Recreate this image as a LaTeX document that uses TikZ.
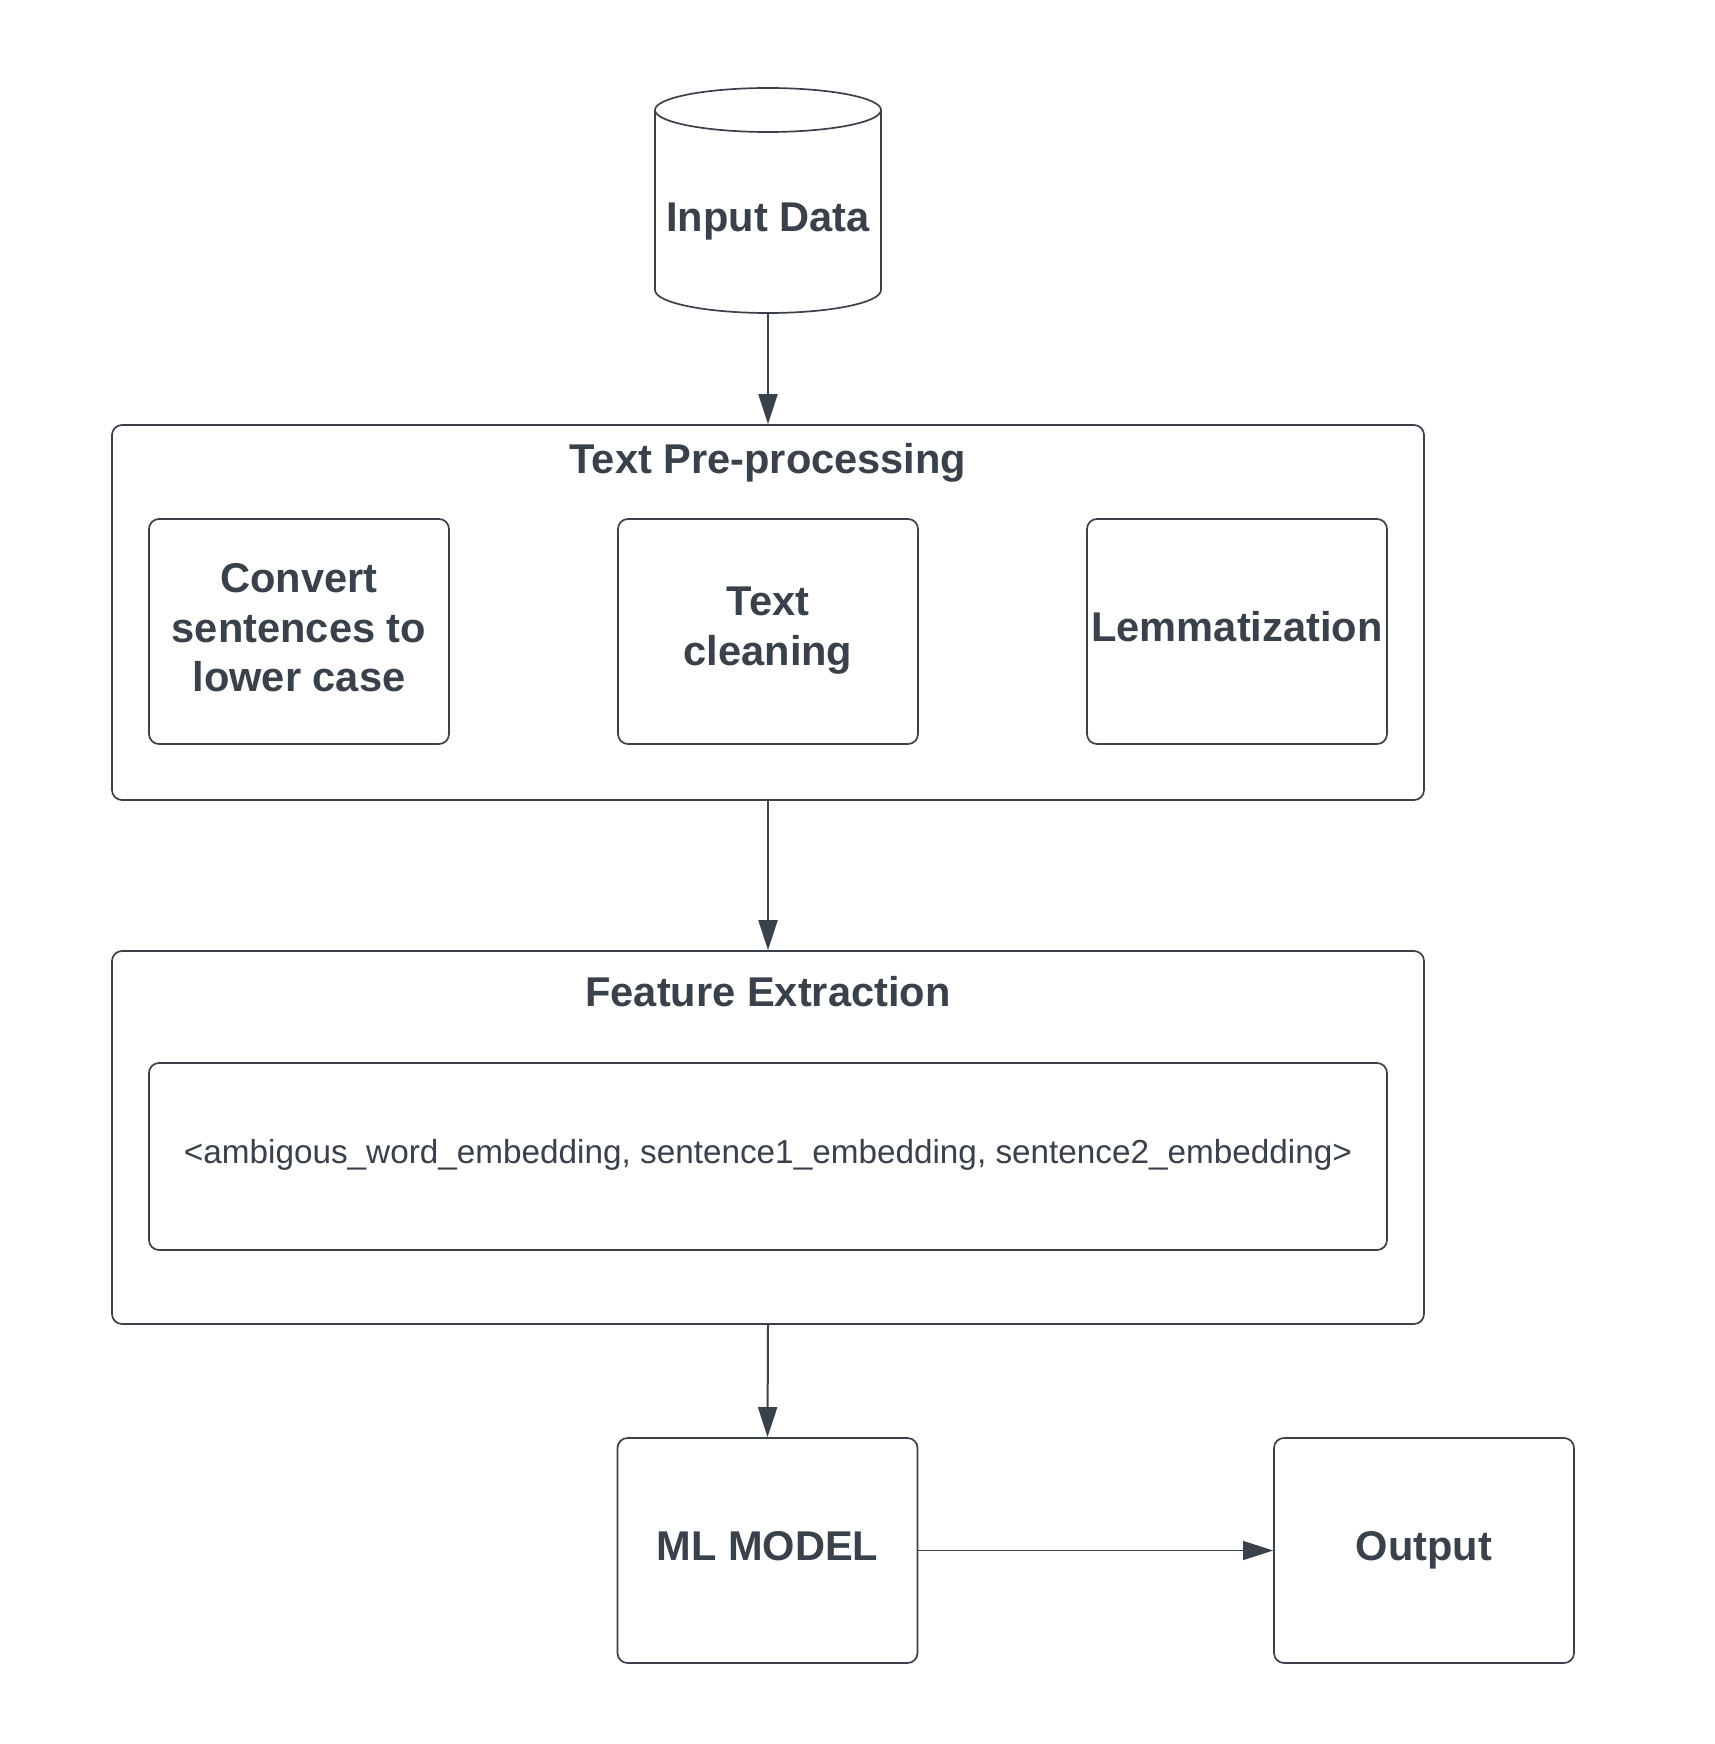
\documentclass[tikz,border=0pt]{standalone}
\usepackage{fontspec}
\setmainfont{Liberation Sans}
\usetikzlibrary{arrows.meta}
\definecolor{ink}{HTML}{3A414A}
\tikzset{
  boxline/.style={draw=ink, line width=0.85pt, rounded corners=5pt, fill=white},
  lbl/.style={text=ink, font=\fontsize{20.8}{24.75}\selectfont\bfseries, align=center, inner sep=0pt},
  fixed/.style={text height=12pt, text depth=2pt},
  small/.style={text=ink, font=\fontsize{16.65}{20}\selectfont, inner sep=0pt, text height=8.5pt, text depth=2pt},
  stepbox/.style={boxline, minimum width=150pt, minimum height=112.5pt},
  conn/.style={draw=ink, line width=1pt, -{Triangle[length=15pt,width=9.5pt]}},
  thinconn/.style={draw=ink, line width=0.6pt, -{Triangle[length=15pt,width=9.5pt]}},
}
\begin{document}
\begin{tikzpicture}[x=0.5pt,y=-0.5pt]
\useasboundingbox[fill=white] (0,0) rectangle (1714,1744);
% cylinder
\draw[draw=ink, line width=0.85pt, fill=white] (655,110) -- (655,290) arc[start angle=180, end angle=0, x radius=113, y radius=23] -- (881,110);
\draw[draw=ink, line width=0.85pt, fill=white] (768,110) ellipse[x radius=113, y radius=22];
\node[minimum width=113pt, minimum height=112.5pt, inner sep=0pt] (inp) at (768,200.5) {};
\node[lbl, fixed] (inptxt) at (768,222) {Input Data};
% Text pre-processing
\node[boxline, minimum width=656pt, minimum height=187.5pt, inner sep=0pt] (pre) at (768,612.5) {};
\node[lbl, fixed] (pretitle) at (768,463) {Text Pre-processing};
\node[stepbox] (conv) at (299,631.5) {};
\node[lbl] (convtxt) at (299,628) {Convert\\sentences to\\lower case};
\node[stepbox] (clean) at (768,631.5) {};
\node[lbl] (cleantxt) at (768,630.4) {Text\\cleaning};
\node[stepbox, lbl, fixed] (lem) at (1237,631.5) {Lemmatization};
% Feature extraction
\node[boxline, minimum width=656pt, minimum height=186.5pt, inner sep=0pt] (fe) at (768,1137.5) {};
\node[lbl, fixed] (fetitle) at (768,996.7) {Feature Extraction};
\node[boxline, small, minimum width=619pt, minimum height=93.5pt] (emb) at (768,1156.5) {<ambigous\_word\_embedding, sentence1\_embedding, sentence2\_embedding>};
% bottom
\node[stepbox, lbl, fixed] (ml) at (767.5,1550.5) {ML MODEL};
\node[stepbox, lbl, fixed] (out) at (1424,1550.5) {Output};
% connectors
\draw[conn] (inp.south) -- (pre.north);
\draw[conn] (pre.south) -- (fe.north);
\draw[conn] (fe.south) -- (ml.north);
\draw[thinconn] (ml.east) -- (out.west);
\end{tikzpicture}
\end{document}
